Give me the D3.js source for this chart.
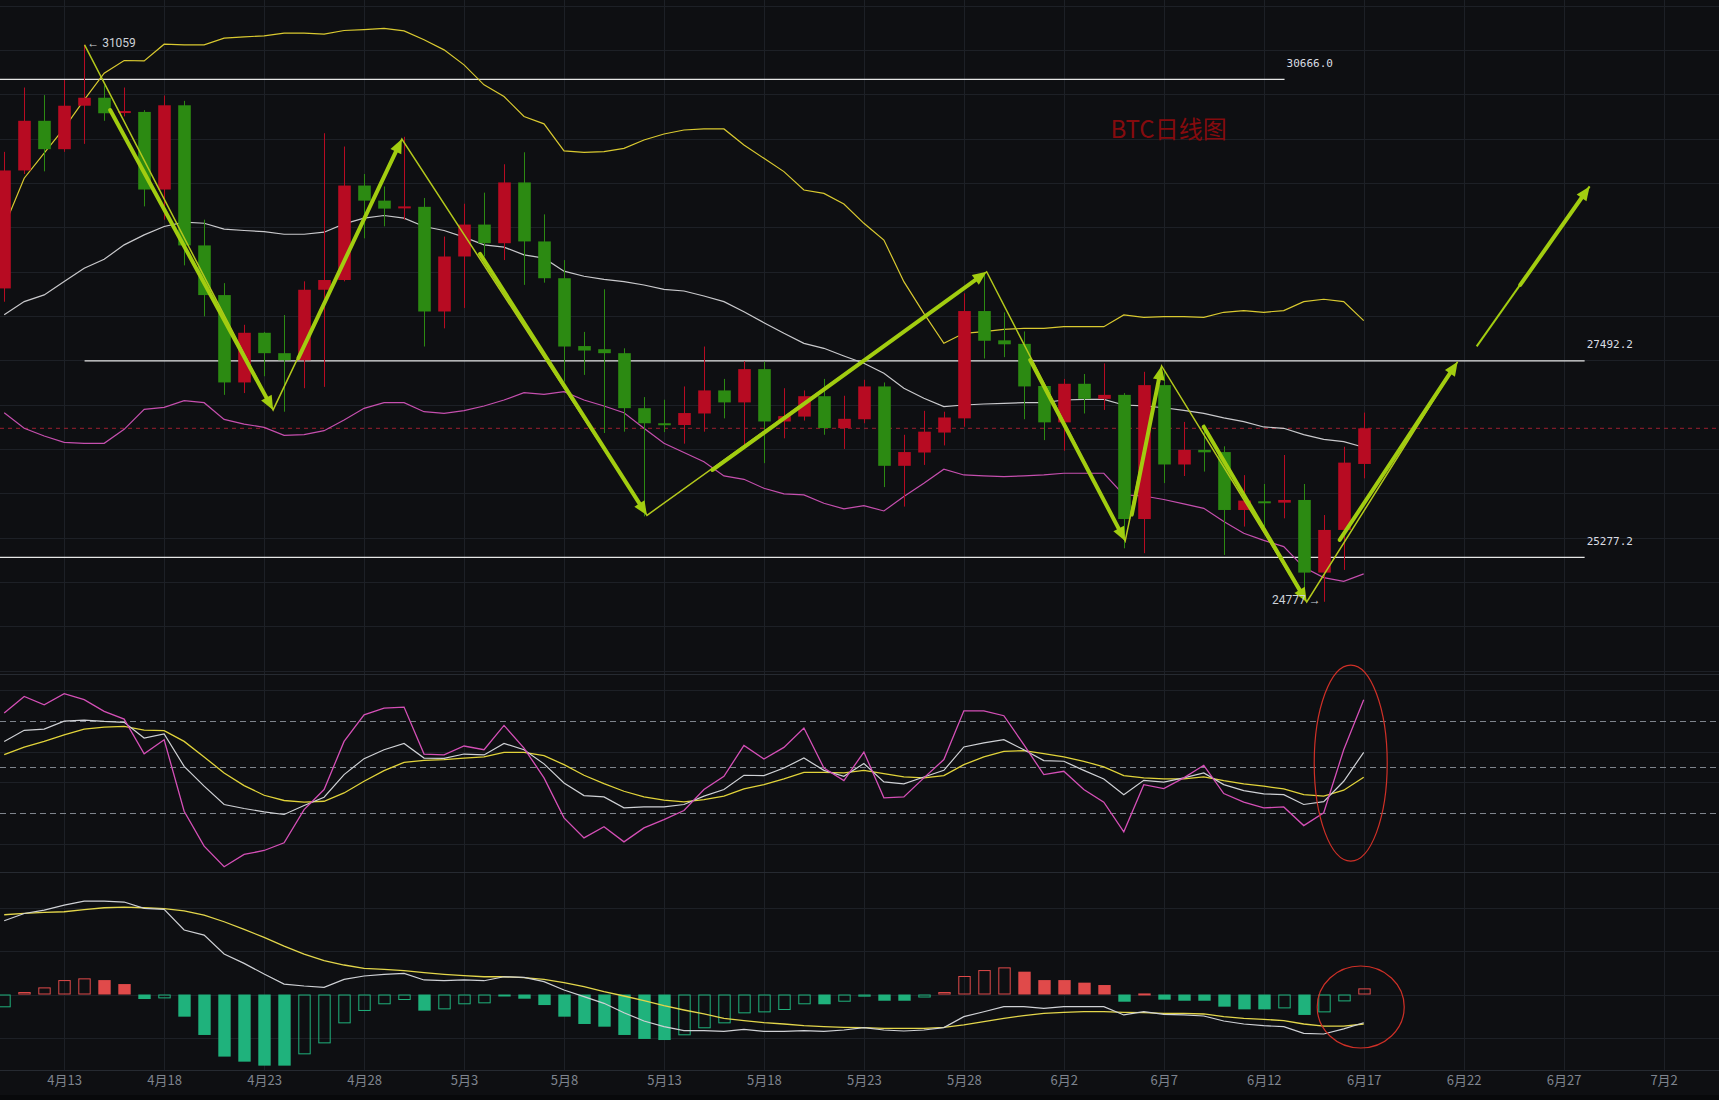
<!DOCTYPE html>
<html><head><meta charset="utf-8">
<script src="https://cdn.jsdelivr.net/npm/d3@7"></script>
<style>
html,body{margin:0;padding:0;background:#0e0f12;}
svg{display:block;}
</style></head><body>
<svg id="chart" width="1719" height="1100"></svg>
<script>
// ---------- DATA (daily candles from 2023-04-10, index 0) ----------
const startDate = "2023-04-10";
const openP  = [28310,29640,30200,29880,30370,30460,30290,30300,29425,30375,28795,28235,27250,27810,27580,27500,28295,28405,29470,29300,29215,29230,28050,28670,29030,28820,29505,28840,28425,27660,27625,27580,26960,26790,26770,26900,27160,27025,27400,26810,26865,27095,26735,26835,27205,26310,26460,26685,26845,28055,27725,27685,27210,26800,27235,27065,27110,25710,27220,26325,26490,26465,25812,25910,25895,25925,25106,25587,26331];
const highP  = [29850,30575,30490,30660,31059,30600,30575,30320,30485,30425,29085,28370,27900,27820,28010,28390,30060,29910,29600,29460,30020,29330,28895,29265,29390,29710,29845,29145,28630,27820,28300,27635,27085,27055,27205,27655,27290,27490,27485,27185,27160,27290,27100,27280,27250,26660,26930,26920,28255,28475,28040,27825,27240,27290,27345,27465,27130,27370,27390,26805,26775,26530,26205,26105,26432,26105,25755,26525,26910];
const lowP   = [28160,29600,29630,29850,29940,30200,30250,29235,29085,28570,27995,27110,27130,27320,26920,27185,27200,28390,28875,29010,29085,27655,27860,28090,28670,28630,28350,28375,27260,27335,26680,26695,25740,26690,26560,26695,26845,26545,26340,26620,26820,26660,26500,26790,26070,25850,26320,26540,26750,27520,27535,26835,26600,26480,26900,26940,25380,25325,26115,26195,26245,25305,25625,25590,25718,24815,24777,25136,26169];
const closeP = [29640,30200,29880,30370,30460,30285,30310,29425,30375,28795,28235,27250,27810,27580,27500,28295,28405,29470,29300,29210,29235,28050,28670,29030,28820,29505,28840,28425,27655,27610,27580,26960,26790,26770,26905,27160,27025,27400,26810,26870,27095,26735,26840,27205,26310,26465,26695,26855,28055,27720,27680,27205,26800,27235,27065,27110,25710,27220,26325,26490,26462,25812,25918,25895,25925,25106,25587,26346,26733];

const bbUpper = [29008,29553,29835,30117,30436,30737,30880,30876,31064,31056,31056,31132,31147,31158,31188,31188,31177,31218,31229,31241,31214,31113,31000,30831,30605,30474,30248,30166,29860,29845,29852,29890,29984,30051,30096,30108,30108,29927,29777,29627,29420,29382,29262,29044,28856,28386,28029,27691,27804,27823,27849,27860,27860,27879,27879,27879,28011,27984,27992,27992,27984,28041,28060,28041,28060,28161,28188,28161,27947];
const bbMid   = [28012,28162,28237,28388,28538,28639,28801,28914,29008,29057,29045,28978,28963,28951,28921,28921,28944,29038,29102,29132,29102,29008,28963,28888,28801,28775,28688,28651,28505,28447,28413,28386,28349,28300,28281,28225,28161,28048,27924,27804,27691,27635,27548,27466,27353,27184,27071,26977,26996,27007,27015,27022,27022,27052,27060,27060,26996,26985,26965,26935,26902,26850,26808,26748,26733,26662,26609,26583,26519];
const bbLower = [26909,26733,26646,26575,26564,26564,26721,26947,26969,27045,27022,26834,26781,26744,26654,26661,26706,26827,26958,27022,27022,26920,26902,26932,26984,27052,27135,27116,27146,27052,26984,26909,26733,26564,26460,26357,26196,26158,26057,25993,25982,25888,25824,25861,25801,25963,26113,26271,26207,26196,26188,26196,26207,26226,26226,26226,25982,25970,25930,25880,25831,25681,25549,25470,25399,25165,25050,25008,25091];

const kLine = [66.6,73.8,74.6,79.8,80.5,79.6,79.0,68.8,71.4,50.4,37.5,25.6,23.0,20.8,19.1,24.9,30.3,45.0,55.4,61.2,65.3,55.8,55.6,58.4,57.8,65.3,61.2,52.0,39.6,31.4,30.5,23.4,24.0,24.0,25.6,31.0,35.3,44.6,44.4,49.3,55.8,47.8,43.9,52.2,40.3,39.0,43.5,47.8,63.0,65.6,67.7,61.2,54.1,53.7,47.8,42.2,32.0,41.3,40.1,42.9,46.1,38.5,34.6,32.5,32.0,25.6,27.5,40.7,59.5];
const dLine = [58.0,62.9,66.6,70.9,74.6,75.9,76.4,74.0,73.6,66.6,56.5,46.1,37.9,31.6,28.2,27.1,27.7,33.1,40.7,47.6,53.0,54.3,54.8,55.8,56.5,59.5,59.5,57.3,51.5,44.6,39.2,34.2,30.5,28.4,27.3,28.8,31.0,35.7,38.5,42.2,46.5,46.5,46.1,47.8,45.7,43.5,42.9,44.4,51.5,56.5,60.1,60.6,58.6,56.5,53.7,50.0,44.4,42.9,42.2,42.2,43.5,41.1,39.0,37.5,35.7,32.0,31.0,34.9,43.3];
const jLine = [85.0,95.8,90.4,97.6,93.7,86.1,81.1,58.6,67.7,21.2,-1.5,-14.9,-6.9,-4.3,0.7,22.3,35.3,66.6,83.9,88.3,88.9,58.4,57.8,63.6,61.2,77.0,62.3,42.9,16.9,3.9,11.1,1.3,10.4,15.8,21.7,35.3,43.9,64.0,55.2,62.7,75.3,49.3,41.1,59.7,29.9,30.5,42.9,54.8,86.5,86.5,83.3,64.5,45.0,47.2,35.3,27.1,7.8,38.5,35.9,42.9,51.1,32.7,27.1,23.4,24.0,11.9,20.2,61.2,93.7];

const difLine = [685,753,784,831,868,868,859,800,791,599,552,376,289,190,97,79,66,141,172,187,196,135,128,135,128,165,159,119,42,-20,-82,-169,-246,-299,-336,-336,-342,-324,-342,-342,-336,-342,-330,-308,-330,-339,-330,-308,-206,-160,-113,-113,-129,-113,-113,-113,-190,-160,-184,-190,-200,-246,-274,-290,-299,-361,-367,-320,-262];
const deaLine = [741,753,763,769,788,806,812,806,797,778,738,676,605,531,450,376,314,274,243,234,221,203,187,175,165,165,156,141,110,73,26,-14,-57,-104,-144,-181,-221,-243,-262,-274,-290,-299,-305,-308,-314,-314,-314,-305,-283,-252,-221,-197,-175,-166,-160,-160,-166,-169,-175,-175,-181,-206,-221,-231,-243,-274,-293,-293,-274];
const macdHist = [-119,23,66,134,150,134,97,-42,-36,-206,-376,-577,-624,-661,-661,-556,-454,-268,-153,-91,-51,-150,-138,-91,-82,-11,-39,-98,-206,-274,-299,-376,-413,-423,-379,-314,-268,-175,-166,-144,-91,-91,-67,-20,-58,-58,-28,23,172,227,252,212,134,134,110,88,-67,10,-48,-58,-58,-113,-138,-138,-129,-190,-166,-64,57];

// time axis ticks (day index from startDate)
const tickIdx    = [3,8,13,18,23,28,33,38,43,48,53,58,63,68,73,78,83];
const tickLabels = ["4月13","4月18","4月23","4月28","5月3","5月8","5月13","5月18","5月23","5月28","6月2","6月7","6月12","6月17","6月22","6月27","7月2"];

// price grid / level lines
const priceGrid   = [24000,24500,25000,25500,26000,26500,27000,27500,28000,28500,29000,29500,30000,30500,31000,31500];
const levelValues = [30666.0, 27492.2, 25277.2];
const levelFrom   = [-1, 4.02, -1];
const levelTo     = [64.04, 79.05, 79.05];
const kdjGrid     = [100, 60, 40, 0];
const kdjDashed   = [80, 50, 20];
const macdGrid    = [800, 400, 0, -400];

// zigzag annotation (day index, price)
const zigzag = [[4.02,31055],[13.45,26940],[19.89,29995],[32.15,25752],[49.14,28498],[56.07,25463],[57.89,27436],[65.15,24775],[72.7,27484]];
const extraLine = [[73.65,27656],[79.3,29460]];
const thickArrows = [
  [[5.3,30322],[13.45,26940]],
  [[14.72,27526],[19.89,29995]],
  [[23.8,28700],[32.15,25752]],
  [[35.43,26263],[49.14,28498]],
  [[51.32,27503],[56.07,25463]],
  [[56.4,25760],[57.89,27436]],
  [[60.0,26751],[65.15,24775]],
  [[66.8,25474],[72.7,27484]],
  [[75.83,28349],[79.3,29460]]
];
const highMarkIdx = 4, lowMarkIdx = 66;
const kdjEllipse  = {idx: 67.35, val: 52.5};
const macdEllipse = {idx: 67.85, val: -116};

// ---------- SCALES ----------
const svg = d3.select("#chart");
const W = 1719, H = 1100;
const x  = d3.scaleLinear().domain([0, 83]).range([4.2, 1663.6]);
const step = x(1) - x(0);
const yP = d3.scaleLinear().domain([24000, 31500]).range([670.7, 5.5]);
const yK = d3.scaleLinear().domain([20, 80]).range([813.1, 720.8]);
const yM = d3.scaleLinear().domain([0, 800]).range([994.5, 908.4]);
const N = closeP.length;

svg.append("rect").attr("width", W).attr("height", H).attr("fill", "#0e0f12");

const defs = svg.append("defs");
function clip(id, y0, y1) {
  defs.append("clipPath").attr("id", id).append("rect").attr("x", 0).attr("y", y0).attr("width", W).attr("height", y1 - y0);
}
clip("cMain", 0, 673.5); clip("cKdj", 675.5, 871.8); clip("cMacd", 873, 1070);

// ---------- GRID ----------
const grid = svg.append("g").attr("stroke", "#1d2026").attr("stroke-width", 1);
grid.selectAll(".vg").data(tickIdx).join("line")
  .attr("x1", d => Math.round(x(d)) + 0.5).attr("x2", d => Math.round(x(d)) + 0.5)
  .attr("y1", 0).attr("y2", 1070);
grid.selectAll(".hp").data(priceGrid).join("line")
  .attr("x1", 0).attr("x2", W).attr("y1", d => Math.round(yP(d)) + 0.5).attr("y2", d => Math.round(yP(d)) + 0.5);
grid.selectAll(".hk").data(kdjGrid).join("line")
  .attr("x1", 0).attr("x2", W).attr("y1", d => Math.round(yK(d)) + 0.5).attr("y2", d => Math.round(yK(d)) + 0.5);
grid.selectAll(".hm").data(macdGrid).join("line")
  .attr("x1", 0).attr("x2", W).attr("y1", d => Math.round(yM(d)) + 0.5).attr("y2", d => Math.round(yM(d)) + 0.5);
// pane separators
svg.append("g").attr("stroke", "#262a31").selectAll("line").data([674.5, 872.5, 1070.5]).join("line")
  .attr("x1", 0).attr("x2", W).attr("y1", d => d).attr("y2", d => d);
svg.append("rect").attr("x", 0).attr("y", 1095).attr("width", W).attr("height", 5).attr("fill", "#08090b");

// ---------- MAIN PANE ----------
const main = svg.append("g").attr("clip-path", "url(#cMain)");

// last price dashed line
main.append("line").attr("x1", 0).attr("x2", W)
  .attr("y1", yP(closeP[N - 1])).attr("y2", yP(closeP[N - 1]))
  .attr("stroke", "#9c1f30").attr("stroke-dasharray", "4,4").attr("stroke-width", 1);

// level lines
main.selectAll(".lvl").data(levelValues).join("line")
  .attr("x1", (d, i) => x(levelFrom[i])).attr("x2", (d, i) => x(levelTo[i]))
  .attr("y1", d => yP(d)).attr("y2", d => yP(d))
  .attr("stroke", "#e6e6e6").attr("stroke-width", 1.2);
svg.selectAll(".lvlT").data(levelValues).join("text")
  .attr("x", (d, i) => x(levelTo[i]) + 2).attr("y", d => yP(d) - 16)
  .attr("dominant-baseline", "central")
  .attr("font-family", "DejaVu Sans Mono, monospace").attr("font-size", 11)
  .attr("fill", "#d9dde3").text(d => d.toFixed(1));

// Bollinger bands
const lineP = d3.line().x((d, i) => x(i)).y(d => yP(d));
main.append("path").attr("d", lineP(bbUpper)).attr("fill", "none").attr("stroke", "#d9c930").attr("stroke-width", 1.2);
main.append("path").attr("d", lineP(bbMid)).attr("fill", "none").attr("stroke", "#c9c9cc").attr("stroke-width", 1.2);
main.append("path").attr("d", lineP(bbLower)).attr("fill", "none").attr("stroke", "#c54fae").attr("stroke-width", 1.2);

// candles
const upC = "#b70b22", dnC = "#2c8a12";
const bw = step * 0.63;
const cg = main.append("g");
const idx = d3.range(N);
cg.selectAll(".wick").data(idx).join("line")
  .attr("x1", i => Math.round(x(i)) + 0.5).attr("x2", i => Math.round(x(i)) + 0.5)
  .attr("y1", i => yP(highP[i])).attr("y2", i => yP(lowP[i]))
  .attr("stroke", i => closeP[i] >= openP[i] ? upC : dnC).attr("stroke-width", 1);
cg.selectAll(".body").data(idx).join("rect")
  .attr("x", i => Math.round(x(i)) + 0.5 - bw / 2)
  .attr("width", bw)
  .attr("y", i => yP(Math.max(openP[i], closeP[i])))
  .attr("height", i => Math.max(2, Math.abs(yP(openP[i]) - yP(closeP[i]))))
  .attr("fill", i => closeP[i] >= openP[i] ? upC : dnC);

// annotations
const thinC = "#b3c81c", thickC = "#a2cd10";
const pt = d => [x(d[0]), yP(d[1])];
const ann = svg.append("g").attr("clip-path", "url(#cMain)");
ann.append("path").attr("d", d3.line()(zigzag.map(pt))).attr("fill", "none").attr("stroke", thinC).attr("stroke-width", 1.5);
ann.append("path").attr("d", d3.line()(extraLine.map(pt))).attr("fill", "none").attr("stroke", thickC).attr("stroke-width", 2);
thickArrows.forEach(a => {
  const p0 = pt(a[0]), p1 = pt(a[1]);
  const dx = p1[0] - p0[0], dy = p1[1] - p0[1];
  const L = Math.hypot(dx, dy), ux = dx / L, uy = dy / L;
  const hl = 14, hw = 6;
  const bx = p1[0] - ux * hl, by = p1[1] - uy * hl;
  ann.append("line").attr("x1", p0[0]).attr("y1", p0[1]).attr("x2", bx + ux * 2).attr("y2", by + uy * 2)
    .attr("stroke", thickC).attr("stroke-width", 4).attr("stroke-linecap", "round");
  ann.append("polygon")
    .attr("points", [[p1[0], p1[1]], [bx - uy * hw, by + ux * hw], [bx + uy * hw, by - ux * hw]].map(p => p.join(",")).join(" "))
    .attr("fill", thickC);
});

// high / low markers
svg.append("text").attr("x", x(highMarkIdx) + 3).attr("y", yP(highP[highMarkIdx]) - 2)
  .attr("dominant-baseline", "central").attr("font-family", "Roboto, sans-serif").attr("font-size", 12)
  .attr("fill", "#cdd1d8").text("← " + highP[highMarkIdx]);
svg.append("text").attr("x", x(lowMarkIdx) - 3).attr("y", yP(lowP[lowMarkIdx]) - 2)
  .attr("text-anchor", "end")
  .attr("dominant-baseline", "central").attr("font-family", "Roboto, sans-serif").attr("font-size", 12)
  .attr("fill", "#cdd1d8").text(lowP[lowMarkIdx] + " →");

// title
svg.append("text").attr("x", 1110.5).attr("y", 127).attr("dominant-baseline", "central")
  .attr("font-family", "Noto Sans CJK SC, sans-serif").attr("font-size", 24)
  .attr("fill", "#850b0e").text("BTC日线图");

// ---------- KDJ PANE ----------
const kp = svg.append("g").attr("clip-path", "url(#cKdj)");
kp.selectAll(".kd").data(kdjDashed).join("line")
  .attr("x1", 0).attr("x2", W).attr("y1", d => Math.round(yK(d)) + 0.5).attr("y2", d => Math.round(yK(d)) + 0.5)
  .attr("stroke", "#7f848c").attr("stroke-dasharray", "6,4").attr("stroke-width", 1);
const lineK = d3.line().x((d, i) => x(i)).y(d => yK(d));
kp.append("path").attr("d", lineK(dLine)).attr("fill", "none").attr("stroke", "#e1d33a").attr("stroke-width", 1.3);
kp.append("path").attr("d", lineK(kLine)).attr("fill", "none").attr("stroke", "#cfd1d5").attr("stroke-width", 1.2);
kp.append("path").attr("d", lineK(jLine)).attr("fill", "none").attr("stroke", "#d44fb6").attr("stroke-width", 1.3);
svg.append("ellipse").attr("cx", x(kdjEllipse.idx)).attr("cy", yK(kdjEllipse.val)).attr("rx", 36.5).attr("ry", 98)
  .attr("fill", "none").attr("stroke", "#cf3027").attr("stroke-width", 1.2);

// ---------- MACD PANE ----------
const mp = svg.append("g").attr("clip-path", "url(#cMacd)");
const hbw = step * 0.62;
const mUp = "#e04a4a", mDn = "#1fb27c";
mp.selectAll(".hb").data(idx).join("rect")
  .each(function(i) {
    const v = macdHist[i];
    const rising = i === 0 ? true : v > macdHist[i - 1];
    const col = v >= 0 ? mUp : mDn;
    const y0 = yM(Math.max(0, v)), h = Math.max(1.5, Math.abs(yM(v) - yM(0)));
    const r = d3.select(this);
    if (rising) {
      r.attr("x", Math.round(x(i)) - hbw / 2 + 1).attr("width", hbw - 1)
       .attr("y", y0 + 0.5).attr("height", Math.max(1, h - 1))
       .attr("fill", "none").attr("stroke", col).attr("stroke-width", 1);
    } else {
      r.attr("x", Math.round(x(i)) + 0.5 - hbw / 2).attr("width", hbw)
       .attr("y", y0).attr("height", h).attr("fill", col);
    }
  });
const lineM = d3.line().x((d, i) => x(i)).y(d => yM(d));
mp.append("path").attr("d", lineM(deaLine)).attr("fill", "none").attr("stroke", "#e3d64b").attr("stroke-width", 1.3);
mp.append("path").attr("d", lineM(difLine)).attr("fill", "none").attr("stroke", "#cfd1d5").attr("stroke-width", 1.2);
svg.append("ellipse").attr("cx", x(macdEllipse.idx)).attr("cy", yM(macdEllipse.val)).attr("rx", 43.5).attr("ry", 41)
  .attr("fill", "none").attr("stroke", "#cf3027").attr("stroke-width", 1.2);

// ---------- TIME AXIS ----------
const ax = svg.append("g").attr("transform", "translate(0,1070)")
  .call(d3.axisBottom(x).tickValues(tickIdx).tickFormat((d, i) => tickLabels[i]).tickSize(0).tickPadding(6));
ax.select(".domain").remove();
ax.selectAll("text").attr("fill", "#7e848e").attr("font-size", 13)
  .attr("font-family", "Noto Sans CJK SC, sans-serif");
</script>
</body></html>
